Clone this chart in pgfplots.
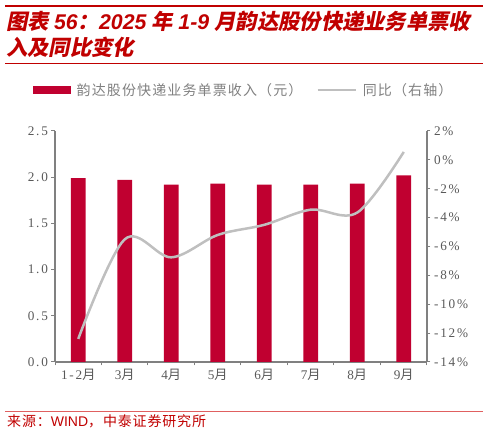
\documentclass[border=0pt]{standalone}
\usepackage{fontspec}
\usepackage{pgfplots}
\pgfplotsset{compat=1.18}
\setmainfont{Liberation Serif}
\newfontfamily\cjk{Noto Sans CJK SC}
\newfontfamily\cjkl[LetterSpace=8]{Noto Sans CJK SC}
\newfontfamily\cjks[LetterSpace=6]{Noto Sans CJK SC}
\newfontfamily\tcjk[FakeSlant=0.2]{Noto Sans CJK SC}
\newfontfamily\tlat{Liberation Sans}
\newfontfamily\tickf[LetterSpace=14]{Liberation Serif}
\definecolor{barred}{HTML}{C00030}
\definecolor{titlered}{HTML}{C00000}
\definecolor{linegray}{HTML}{BFBFBF}
\definecolor{axgray}{HTML}{808080}
\definecolor{txtgray}{HTML}{595959}
\definecolor{srcred}{HTML}{E06060}
\newcommand{\TC}[1]{{\tcjk\bfseries #1}}
\newcommand{\TL}[1]{{\tlat\bfseries\itshape #1}}
\newcommand{\M}[1]{{\tickf #1}{\cjk 月}}
\begin{document}
\begin{tikzpicture}
\path[use as bounding box] (0,0) rectangle (488bp,435bp);
\draw[titlered, line width=2bp] (5bp,429bp) -- (483bp,429bp);
\draw[titlered, line width=0.8bp] (5bp,372bp) -- (483bp,372bp);
\draw[srcred, line width=1.2bp] (5bp,23.3bp) -- (483bp,23.3bp);
\node[anchor=base west, inner sep=0, text=titlered, font=\fontsize{21.3bp}{24bp}\selectfont] at (6bp,405bp)
  {\TC{图表}\ \TL{56}\TC{：}\TL{2025}\ \TC{年}\ \TL{1-9}\ \TC{月韵达股份快递业务单票收}};
\node[anchor=base west, inner sep=0, text=titlered, font=\fontsize{21.3bp}{24bp}\selectfont] at (6bp,379bp)
  {\TC{入及同比变化}};
\node[anchor=base west, inner sep=0, text=titlered, font=\fontsize{14bp}{16bp}\selectfont] at (7bp,9bp)
  {{\cjks 来源：}{\tlat WIND}{\cjks ，中泰证券研究所}};
\begin{axis}[
  at={(55bp,73bp)}, anchor=south west,
  width=372bp, height=231bp, scale only axis,
  xmin=-0.5, xmax=7.5, ymin=0, ymax=2.5,
  axis x line*=bottom, axis y line*=left,
  axis line style={axgray, line width=1.2bp, -},
  tick style={axgray, line width=1bp},
  major tick length=3.5bp, tick align=outside,
  xtick={-0.5,0.5,...,7.5},
  x tick label as interval=true,
  xticklabels={\M{1-2},\M{3},\M{4},\M{5},\M{6},\M{7},\M{8},\M{9}},
  ytick={0,0.5,1,1.5,2,2.5},
  yticklabel style={/pgf/number format/.cd, fixed, fixed zerofill, precision=1, assume math mode=true},
  tick label style={font=\tickf\fontsize{13.2bp}{15bp}\selectfont, text=txtgray},
  legend style={at={(0.507,1.177)}, anchor=center, draw=none, fill=none,
    legend columns=2, inner sep=0pt,
    font=\cjkl\fontsize{14bp}{16bp}\selectfont, text=axgray,
    /tikz/every odd column/.append style={column sep=4bp},
    /tikz/every even column/.append style={column sep=12bp}},
  legend cell align=left,
]
\addplot[ybar, bar width=14.7bp, fill=barred, draw=none,
  legend image code/.code={\fill[barred] (0bp,-4bp) rectangle (38bp,4bp);}]
  coordinates {(0,1.99) (1,1.97) (2,1.92) (3,1.93) (4,1.92) (5,1.92) (6,1.93) (7,2.02)};
\addlegendentry{韵达股份快递业务单票收入（元）}
\addlegendimage{legend image code/.code={\draw[linegray, line width=2.5bp] (0bp,0bp) -- (38bp,0bp);}}
\addlegendentry{同比（右轴）}
\end{axis}
\begin{axis}[
  at={(55bp,73bp)}, anchor=south west,
  width=372bp, height=231bp, scale only axis,
  xmin=-0.5, xmax=7.5, ymin=-14, ymax=2,
  axis x line=none, axis y line*=right,
  axis line style={axgray, line width=1.2bp, -},
  tick style={axgray, line width=1bp},
  major tick length=3.5bp, tick align=outside,
  ytick={-14,-12,...,2},
  yticklabel={\pgfmathprintnumber[assume math mode=true]{\tick}\%},
  tick label style={font=\tickf\fontsize{13.2bp}{15bp}\selectfont, text=txtgray},
]
\addplot[linegray, line width=2.5bp, smooth, tension=0.55]
  coordinates {(0,-12.4) (1,-5.5) (2,-6.75) (3,-5.2) (4,-4.5) (5,-3.45) (6,-3.65) (7,0.55)};
\end{axis}
\end{tikzpicture}
\end{document}
